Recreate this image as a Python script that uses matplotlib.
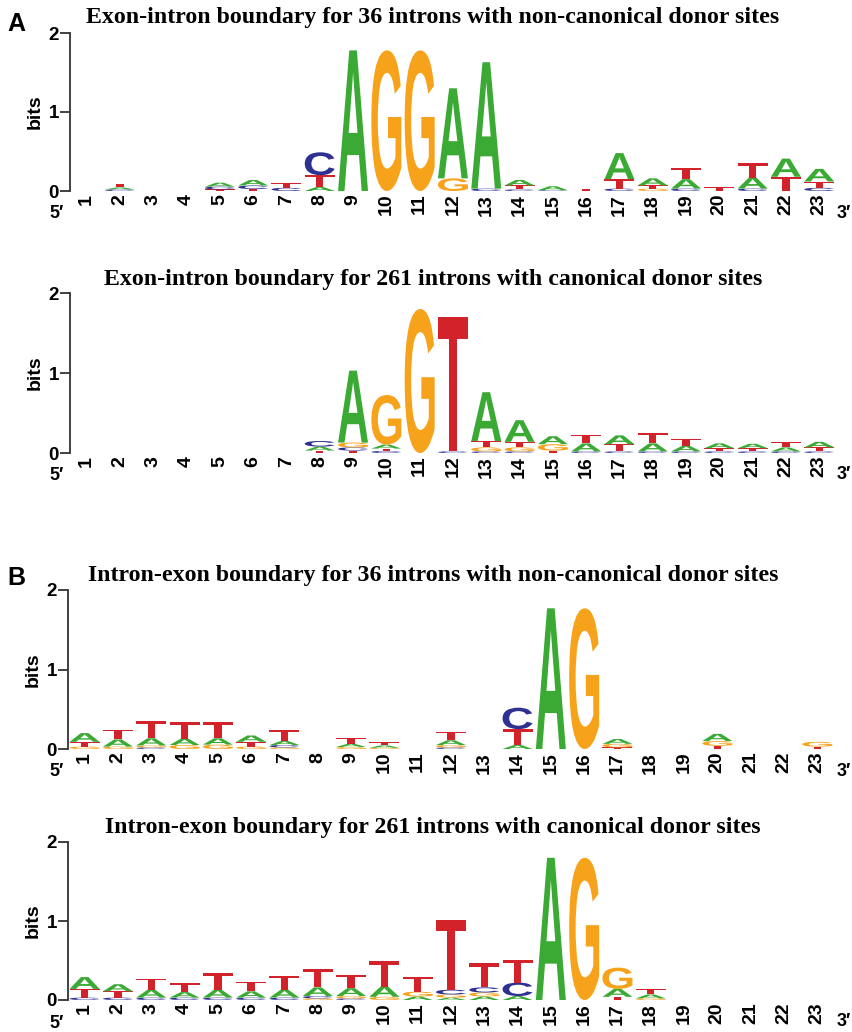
import matplotlib
matplotlib.use('Agg')
import matplotlib.pyplot as plt
import matplotlib.transforms as mtransforms
from matplotlib.textpath import TextPath
from matplotlib.patches import PathPatch
from matplotlib.font_manager import FontProperties

positions = list(range(1, 24))

exon_nc = {
    'A': [0, .025, 0, 0, .05, .07, 0, .05, 1.78, 0, 0, 1.14, 1.6, .07, .05, 0, .33, .09, .12, 0, .14, .23, .16],
    'C': [0, .02, 0, 0, .035, .045, .04, .29, 0, 0, 0, 0, .03, .02, .01, 0, .03, 0, .03, 0, .03, 0, .04],
    'G': [0, 0, 0, 0, 0, 0, 0, 0, 0, 1.78, 1.78, .16, 0, 0, 0, 0, 0, .03, 0, 0, 0, 0, 0],
    'T': [0, .045, 0, 0, .02, .025, .065, .15, 0, 0, 0, 0, 0, .05, 0, .03, .12, .04, .14, .05, .18, .18, .08],
}
exon_c = {
    'A': [0, 0, 0, 0, 0, 0, 0, .05, .90, .05, 0, 0, .61, .27, .10, .10, .11, .10, .07, .06, .055, .05, .07],
    'C': [0, 0, 0, 0, 0, 0, 0, .07, .04, .025, 0, .02, .02, .02, 0, .02, .02, .02, .02, .02, .02, .02, .02],
    'G': [0, 0, 0, 0, 0, 0, 0, 0, .06, .62, 1.8, 0, .05, .05, .08, 0, 0, 0, 0, 0, 0, 0, 0],
    'T': [0, 0, 0, 0, 0, 0, 0, .03, .03, .03, 0, 1.68, .08, .07, .03, .11, .09, .13, .09, .04, .04, .07, .05],
}
intron_nc = {
    'A': [.11, .09, .09, .08, .08, .08, .05, 0, .04, .03, 0, .06, 0, .05, 1.77, 0, .06, 0, 0, .09, 0, 0, 0],
    'C': [0, 0, .02, 0, 0, 0, .03, 0, 0, 0, 0, .02, 0, .27, 0, 0, 0, 0, 0, 0, 0, 0, 0],
    'G': [.03, .03, .025, .05, .055, .03, .02, 0, .025, .015, 0, .03, 0, 0, 0, 1.77, .045, 0, 0, .06, 0, 0, .06],
    'T': [.06, .12, .22, .21, .2, .06, .14, 0, .07, .04, 0, .11, 0, .2, 0, 0, .02, 0, 0, .04, 0, 0, .03],
}
intron_c = {
    'A': [.15, .09, .10, .07, .10, .08, .10, .11, .10, .13, .045, .03, .045, .05, 1.8, 0, .10, .05, 0, 0, 0, 0, 0],
    'C': [.03, .03, .03, .03, .03, .03, .03, .03, .02, 0, 0, .06, .065, .17, 0, 0, 0, 0, 0, 0, 0, 0, 0],
    'G': [0, 0, 0, 0, 0, 0, 0, .02, .03, .04, .06, .04, .05, 0, 0, 1.8, .27, .02, 0, 0, 0, 0, 0],
    'T': [.11, .08, .14, .11, .21, .12, .17, .23, .17, .33, .19, .88, .31, .29, 0, 0, .04, .07, 0, 0, 0, 0, 0],
}

titles = [
    'Exon-intron boundary for 36 introns with non-canonical donor sites',
    'Exon-intron boundary for 261 introns with canonical donor sites',
    'Intron-exon boundary for 36 introns with non-canonical donor sites',
    'Intron-exon boundary for 261 introns with canonical donor sites',
]

COLORS = {'A': '#3aaa35', 'C': '#2e3192', 'G': '#f7a21b', 'T': '#d2232a'}
W, H = 852, 1032
SANS = ['Liberation Sans', 'DejaVu Sans']

glyph_font = FontProperties(family='Liberation Sans', weight='bold')
GLYPHS = {ch: TextPath((0, 0), ch, size=1, prop=glyph_font) for ch in 'ACGT'}


def draw_letter(ax, ch, x, y, w, h):
    p = GLYPHS[ch]
    ext = p.get_extents()
    t = (mtransforms.Affine2D()
         .translate(-ext.x0, -ext.y0)
         .scale(w / ext.width, h / ext.height)
         .translate(x - w / 2, y))
    ax.add_patch(PathPatch(t.transform_path(p), facecolor=COLORS[ch],
                           edgecolor='none'))


def logo(ax, data):
    for i, pos in enumerate(positions):
        stack = sorted((data[ch][i], ch) for ch in 'ACGT' if data[ch][i] > 0)
        y = 0
        for h, ch in stack:
            draw_letter(ax, ch, pos, y, 0.9, h)
            y += h
    ax.set_xlim(0.5, 23.5)
    ax.set_ylim(0, 2)
    for s in ['top', 'right', 'bottom']:
        ax.spines[s].set_visible(False)
    ax.spines['left'].set_linewidth(1.3)
    ax.spines['left'].set_color('#333333')
    ax.set_yticks([0, 1, 2])
    ax.set_yticklabels(['0', '1', '2'], fontsize=13.5, fontweight='bold', family=SANS)
    ax.tick_params(axis='y', length=7, width=1.3, color='#333333', pad=1)
    ax.set_xticks(positions)
    ax.set_xticklabels([str(p) for p in positions], rotation=90, fontsize=14,
                       fontweight='bold', family=SANS)
    ax.tick_params(axis='x', length=0, pad=2)
    ax.text(-0.045, 0.5, 'bits', transform=ax.transAxes, rotation=90,
            ha='center', va='center', fontsize=14, fontweight='bold', family=SANS)


fig = plt.figure(figsize=(W / 100, H / 100), dpi=100)

# (axis x, y of 2 bits, y of 0 bits, title y) in pixels
panels = [
    (exon_nc, 70, 33, 191, 18),
    (exon_c, 70, 293, 453, 280),
    (intron_nc, 68, 590, 749, 575),
    (intron_c, 68, 842, 1000, 827),
]

for k, (data, x0, ytop, ybot, ty) in enumerate(panels):
    x1 = x0 + 23 * 33.3
    ax = fig.add_axes([x0 / W, 1 - ybot / H, (x1 - x0) / W, (ybot - ytop) / H])
    logo(ax, data)
    fig.text(433 / W, 1 - ty / H, titles[k], ha='center', va='center',
             family='Liberation Serif', fontweight='bold', fontsize=17.2)
    fig.text(57 / W, 1 - (ybot + 23) / H, '5\u2032', ha='center', va='center',
             fontsize=13, fontweight='bold', family=SANS)
    fig.text(837 / W, 1 - (ybot + 22) / H, '3\u2032', ha='left', va='center',
             fontsize=13, fontweight='bold', family=SANS)

fig.text(16 / W, 1 - 24 / H, 'A', ha='center', va='center', fontsize=18,
         fontweight='bold', family=SANS)
fig.text(16 / W, 1 - 578 / H, 'B', ha='center', va='center', fontsize=18,
         fontweight='bold', family=SANS)

fig.savefig('out.png', dpi=100)
